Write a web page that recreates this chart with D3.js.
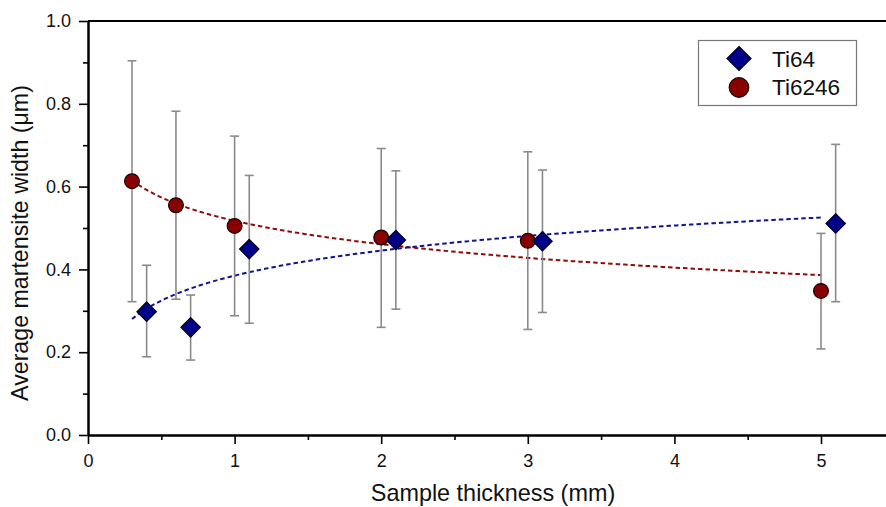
<!DOCTYPE html>
<html><head><meta charset="utf-8">
<script src="https://cdn.jsdelivr.net/npm/d3@7"></script>
<style>body{margin:0;background:#fff;}svg{display:block;font-family:"Liberation Sans",Arial,sans-serif;}</style>
</head><body><svg id="c" width="886" height="507"></svg>
<script>
// Data
const thickness = [0.3, 0.6, 1, 2, 3, 5];           // true sample thickness (mm), used for fits
const ti6246X = [0.3, 0.6, 1.0, 2.0, 3.0, 5.0];     // plotted positions
const ti6246Y = [0.613, 0.555, 0.505, 0.477, 0.469, 0.348];
const ti6246Lo = [0.322, 0.328, 0.288, 0.260, 0.255, 0.208];
const ti6246Hi = [0.904, 0.782, 0.722, 0.692, 0.684, 0.487];
const ti64X = [0.4, 0.7, 1.1, 2.1, 3.1, 5.1];       // plotted (offset) positions
const ti64Y = [0.298, 0.260, 0.449, 0.471, 0.468, 0.511];
const ti64Lo = [0.189, 0.181, 0.270, 0.304, 0.296, 0.322];
const ti64Hi = [0.410, 0.338, 0.627, 0.638, 0.640, 0.702];
const xTicks = [0, 1, 2, 3, 4, 5];
const xMinor = [0.5, 1.5, 2.5, 3.5, 4.5];
const yTicks = [0, 0.2, 0.4, 0.6, 0.8, 1.0];
const yMinor = [0.1, 0.3, 0.5, 0.7, 0.9];
const seriesNames = ["Ti64", "Ti6246"];

const svg = d3.select("#c");
const L = 88, T = 21, B = 435, R = 886;
const x = d3.scaleLinear().domain([0, (R - L) / 146.6]).range([L, R]);
const y = d3.scaleLinear().domain([0, 1]).range([B, T]);

// log fit y = a + b ln x
function logFit(xs, ys) {
  const lx = xs.map(Math.log);
  const mx = d3.mean(lx), my = d3.mean(ys);
  let sxy = 0, sxx = 0;
  lx.forEach((v, i) => { sxy += (v - mx) * (ys[i] - my); sxx += (v - mx) * (v - mx); });
  const b = sxy / sxx, a = my - b * mx;
  return t => a + b * Math.log(t);
}

// axes
const gx = svg.append("g").attr("transform", `translate(0,${B})`);
gx.call(d3.axisBottom(x).tickValues(xTicks).tickSize(9).tickSizeOuter(0).tickFormat(d3.format("d")));
const gxm = svg.append("g").attr("transform", `translate(0,${B})`);
gxm.call(d3.axisBottom(x).tickValues(xMinor).tickSize(5).tickSizeOuter(0).tickFormat(""));
const gy = svg.append("g").attr("transform", `translate(${L},0)`);
gy.call(d3.axisLeft(y).tickValues(yTicks).tickSize(9).tickSizeOuter(0).tickFormat(d3.format(".1f")));
const gym = svg.append("g").attr("transform", `translate(${L},0)`);
gym.call(d3.axisLeft(y).tickValues(yMinor).tickSize(5).tickSizeOuter(0).tickFormat(""));
[gx, gxm, gy, gym].forEach(g => {
  g.selectAll("path.domain").attr("stroke", "#000").attr("stroke-width", 2);
  g.selectAll(".tick line").attr("stroke", "#000").attr("stroke-width", 1.6);
  g.selectAll(".tick text").attr("fill", "#111").style("font-size", "18px").style("font-family", "'Liberation Sans',Arial,sans-serif");
});
gx.selectAll(".tick text").attr("y", 32).attr("dy", 0);
gy.selectAll(".tick text").attr("x", -17);
// top frame line
svg.append("line").attr("x1", L).attr("x2", R).attr("y1", y(1)).attr("y2", y(1)).attr("stroke", "#000").attr("stroke-width", 2);

// titles
svg.append("text").attr("x", 493).attr("y", 501).attr("text-anchor", "middle")
  .style("font-size", "23.4px").attr("fill", "#111").text("Sample thickness (mm)");
svg.append("text").attr("transform", `translate(27.5,243) rotate(-90)`).attr("text-anchor", "middle")
  .style("font-size", "23.2px").attr("fill", "#111").text("Average martensite width (μm)");

// fit lines
const line = d3.line().x(d => x(d[0])).y(d => y(d[1]));
const fitXs = d3.range(0, 201).map(i => 0.3 + (5 - 0.3) * i / 200);
const fR = logFit(thickness, ti6246Y), fB = logFit(thickness, ti64Y);
svg.append("path").attr("d", line(fitXs.map(t => [t, fR(t)]))).attr("fill", "none")
  .attr("stroke", "#8f0c0c").attr("stroke-width", 2).attr("stroke-dasharray", "4.5,3");
svg.append("path").attr("d", line(fitXs.map(t => [t, fB(t)]))).attr("fill", "none")
  .attr("stroke", "#14148f").attr("stroke-width", 2).attr("stroke-dasharray", "4.5,3");

// error bars
function errBars(xs, lo, hi) {
  const g = svg.append("g").attr("stroke", "#8a8a8a").attr("stroke-width", 1.6);
  xs.forEach((xv, i) => {
    g.append("line").attr("x1", x(xv)).attr("x2", x(xv)).attr("y1", y(lo[i])).attr("y2", y(hi[i]));
    g.append("line").attr("x1", x(xv) - 4.5).attr("x2", x(xv) + 4.5).attr("y1", y(lo[i])).attr("y2", y(lo[i]));
    g.append("line").attr("x1", x(xv) - 4.5).attr("x2", x(xv) + 4.5).attr("y1", y(hi[i])).attr("y2", y(hi[i]));
  });
}
errBars(ti6246X, ti6246Lo, ti6246Hi);
errBars(ti64X, ti64Lo, ti64Hi);

// markers
const diamond = s => `M0,${-s}L${s},0L0,${s}L${-s},0Z`;
svg.append("g").selectAll("circle").data(ti6246X).join("circle")
  .attr("cx", d => x(d)).attr("cy", (d, i) => y(ti6246Y[i])).attr("r", 7.4)
  .attr("fill", "#880000").attr("stroke", "#1a0000").attr("stroke-width", 1.2);
svg.append("g").selectAll("path").data(ti64X).join("path")
  .attr("d", diamond(9.7)).attr("transform", (d, i) => `translate(${x(d)},${y(ti64Y[i])})`)
  .attr("fill", "#000088").attr("stroke", "#000010").attr("stroke-width", 1.2);

// legend
const lg = svg.append("g");
lg.append("rect").attr("x", 698.5).attr("y", 40.5).attr("width", 158).attr("height", 65)
  .attr("fill", "#fff").attr("stroke", "#777").attr("stroke-width", 1.2);
lg.append("path").attr("d", diamond(12)).attr("transform", "translate(739,58.5)")
  .attr("fill", "#000088").attr("stroke", "#000010").attr("stroke-width", 1.2);
lg.append("circle").attr("cx", 739).attr("cy", 87.5).attr("r", 9.8)
  .attr("fill", "#880000").attr("stroke", "#1a0000").attr("stroke-width", 1.2);
lg.selectAll("text.l").data(seriesNames).join("text").attr("class", "l")
  .attr("x", 772).attr("y", (d, i) => 67 + i * 28).style("font-size", "22.5px").attr("fill", "#111").text(d => d);
</script></body></html>
